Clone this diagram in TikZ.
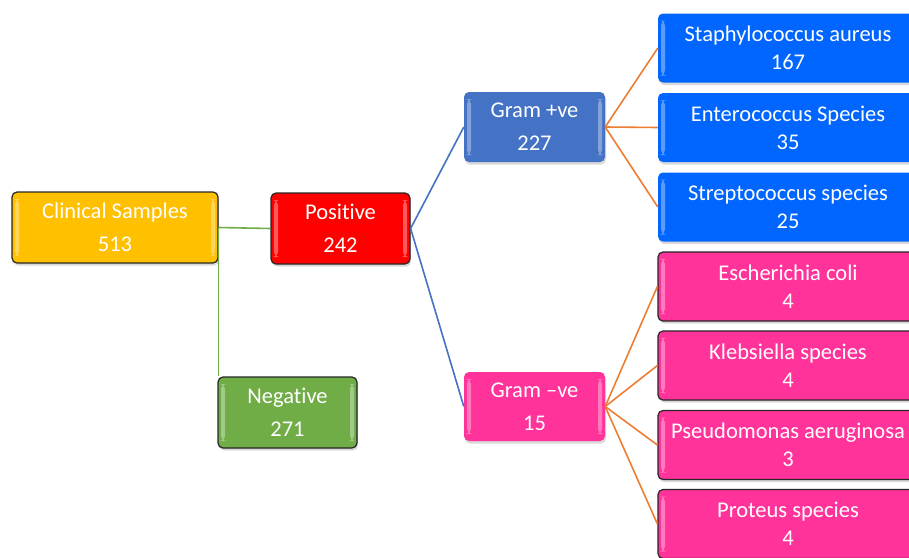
\documentclass[tikz,border=0pt]{standalone}
\usepackage{fontspec}
\setmainfont{Carlito}[Ligatures={NoCommon}]
\usetikzlibrary{shadows}
\definecolor{cYellow}{HTML}{FFC000}
\definecolor{cRed}{HTML}{FF0000}
\definecolor{cGreen}{HTML}{70AD47}
\definecolor{cGramP}{HTML}{4472C4}
\definecolor{cPink}{HTML}{FF3399}
\definecolor{cBlue}{HTML}{0066FF}
\definecolor{cOrange}{HTML}{ED7D31}
\definecolor{cLine}{HTML}{4472C4}
\tikzset{
  hl/.style={path picture={
    \fill[white,opacity=0.35] ([xshift=3pt,yshift=-7pt]path picture bounding box.north west) rectangle ([xshift=7pt,yshift=7pt]path picture bounding box.south west);
    \fill[white,opacity=0.35] ([xshift=-7pt,yshift=-7pt]path picture bounding box.north east) rectangle ([xshift=-3pt,yshift=7pt]path picture bounding box.south east);
  }},
  box/.style={rounded corners=5pt, hl, text=white, align=center, inner sep=0pt,
    drop shadow={opacity=0.3,shadow xshift=1pt,shadow yshift=-2.5pt}},
  bigbox/.style={box, font=\fontsize{22.5}{33}\selectfont},
  spbox/.style={box, font=\fontsize{22.5}{28}\selectfont, minimum width=260pt, minimum height=69pt},
  dark/.style={draw=black!85, line width=1.2pt},
  conn/.style={line width=1.6pt},
}
\begin{document}
\begin{tikzpicture}[x=1pt,y=-1pt]
\useasboundingbox (0,0) rectangle (909,557);
\clip (0,0) rectangle (909,557);
% level 1-2
\node[bigbox, dark, fill=cYellow, minimum width=206pt, minimum height=71pt] (clin) at (115,227.5) {Clinical Samples\\513};
\node[bigbox, dark, fill=cRed, minimum width=139pt, minimum height=71pt] (pos) at (340.5,228.5) {Positive\\242};
\node[bigbox, dark, fill=cGreen, minimum width=139pt, minimum height=71pt] (neg) at (287.5,412.5) {Negative\\271};
\node[bigbox, fill=cGramP, minimum width=141pt, minimum height=70pt] (gp) at (534.5,127) {Gram +ve\\227};
\node[bigbox, fill=cPink, minimum width=141pt, minimum height=69pt] (gn) at (534.5,406.5) {Gram –ve\\15};
% species
\node[spbox, fill=cBlue] (s1) at (788,48) {Staphylococcus aureus\\167};
\node[spbox, fill=cBlue] (s2) at (788,127.5) {Enterococcus Species\\35};
\node[spbox, fill=cBlue] (s3) at (788,207) {Streptococcus species\\25};
\node[spbox, dark, fill=cPink] (n1) at (788,286.5) {Escherichia coli\\4};
\node[spbox, dark, fill=cPink] (n2) at (788,365.5) {Klebsiella species\\4};
\node[spbox, dark, fill=cPink] (n3) at (788,445) {Pseudomonas aeruginosa\\3};
\node[spbox, dark, fill=cPink] (n4) at (788,524) {Proteus species\\4};
% connectors
\draw[conn, cGreen] (clin.east) -- (pos.west);
\draw[conn, cGreen] (clin.east) -- (clin.east |- neg.north);
\draw[conn, cLine] (pos.east) -- (gp.west);
\draw[conn, cLine] (pos.east) -- (gn.west);
\foreach \t in {s1,s2,s3} \draw[conn, cOrange] (gp.east) -- (\t.west);
\foreach \t in {n1,n2,n3,n4} \draw[conn, cOrange] (gn.east) -- (\t.west);
\end{tikzpicture}
\end{document}
